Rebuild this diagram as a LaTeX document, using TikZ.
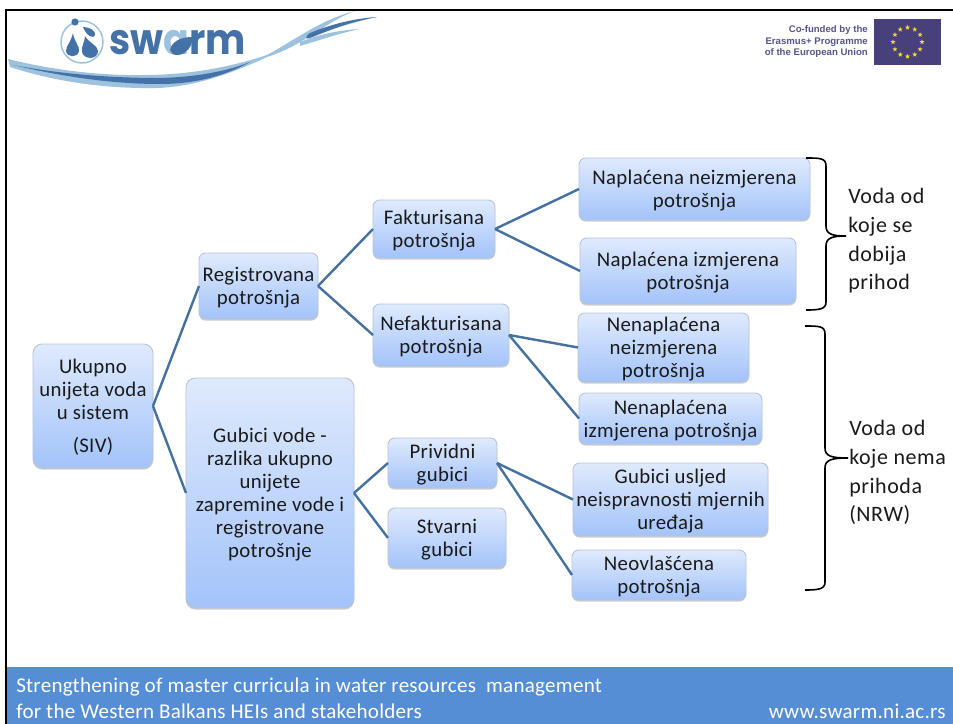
\documentclass[tikz,border=0pt]{standalone}
\usepackage{fontspec}
\setmainfont{Carlito}
\newfontfamily\boxfont[LetterSpace=1.5]{Carlito}
\newfontfamily\footfont[LetterSpace=1.2]{Carlito}
\newfontfamily\sidefont[LetterSpace=2.5]{Carlito}
\newfontfamily\logofont{Poppins}
\newfontfamily\eufont{Liberation Sans}
\usetikzlibrary{shadows,shapes.geometric}
\definecolor{boxtop}{HTML}{DFEAFD}
\definecolor{boxbot}{HTML}{A3C3FA}
\definecolor{boxedge}{HTML}{B9C5D6}
\definecolor{linkc}{HTML}{44719F}
\definecolor{band}{HTML}{558ED5}
\definecolor{inkc}{HTML}{1A1A1A}
\definecolor{logod}{HTML}{4472A8}
\definecolor{logol}{HTML}{9DC2DE}
\definecolor{logom}{HTML}{6F9FC8}
\definecolor{euc}{HTML}{47407A}
\definecolor{eut}{HTML}{55558A}
\definecolor{eustar}{HTML}{F3D72F}
\tikzset{
  x=0.75pt,y=-0.75pt,
  pxbox/.style n args={4}{minimum width={(#3-#1)*0.75pt},minimum height={(#4-#2)*0.75pt},at={({(#1+#3)/2},{(#2+#4)/2})}},
  bx/.style={rectangle,rounded corners=5pt,draw=boxedge,line width=0.7pt,top color=boxtop,bottom color=boxbot,
    inner sep=0pt,outer sep=0pt,align=center,text=inkc,font=\boxfont\fontsize{15.6}{17.25}\selectfont,text depth=-1.1pt,
    drop shadow={shadow xshift=0pt,shadow yshift=-1.2pt,opacity=.4,fill=gray}},
  bigbx/.style={bx,rounded corners=7pt},
  link/.style={draw=linkc,line width=1.8pt},
  bracec/.style={draw=black,line width=1.2pt},
  sidetxt/.style={anchor=north west,inner sep=0pt,align=left,text=inkc,font=\sidefont\fontsize{16.5}{21.6}\selectfont},
  foot/.style={inner sep=0pt,text=white,font=\footfont\fontsize{15.8}{18}\selectfont},
  eutxt/.style={anchor=base east,inner sep=0pt,text=eut,font=\eufont\bfseries\fontsize{7.2}{8}\selectfont},
}
\begin{document}
\begin{tikzpicture}
\useasboundingbox (0,0) rectangle (953,724);
\fill[white] (0,0) rectangle (953,724);
% frame
\draw[black,line width=1.5pt] (6,724) -- (6,10) -- (953,10);
% footer
\node[fill=band,anchor=north west,minimum width={946*0.75pt},minimum height={57*0.75pt},inner sep=0pt,outer sep=0pt] (footer) at (7,667) {};
\node[foot,anchor=base west] (ft1) at (16,692) {Strengthening of master curricula in water resources~ management};
\node[foot,anchor=base west] (ft2) at (16,718) {for the Western Balkans HEIs and stakeholders};
\node[foot,anchor=base east] (ft3) at (946,718) {www.swarm.ni.ac.rs};
% logo swoosh
\fill[logol] (8,59) .. controls (60,72) and (110,76) .. (150,75) .. controls (200,74) and (240,64) .. (267,55) .. controls (295,40) and (320,20) .. (355,11)
  .. controls (325,22) and (305,45) .. (267,57) .. controls (235,72) and (195,87) .. (157,88) .. controls (100,89) and (50,80) .. (10,67) -- cycle;
\fill[logol] (300,36) .. controls (325,28) and (345,20) .. (377,17) .. controls (345,24) and (325,32) .. (300,40) -- cycle;
\fill[logol] (300,42) .. controls (320,34) and (340,30) .. (360,29) .. controls (340,33) and (320,40) .. (300,46) -- cycle;
\fill[logod] (13,65) .. controls (60,74) and (110,78) .. (160,78) .. controls (195,77) and (225,72) .. (250,62)
  .. controls (225,76) and (195,84) .. (160,84) .. controls (110,84) and (60,76) .. (13,65) -- cycle;
\fill[logod] (310,33) .. controls (330,25) and (350,19) .. (377,17) .. controls (350,22) and (335,28) .. (310,38) .. controls (305,40) and (305,36) .. (310,33) -- cycle;
% logo mark
\draw[logol,line width=1.1pt] (82,42) circle[radius=21];
\fill[logod] (75,22) circle[radius=3.6];
\fill[logod] (83,27) .. controls (90,27) and (96,31) .. (95,35) .. controls (94,39) and (87,37) .. (83,27) -- cycle;
\fill[logod] (73,33) .. controls (74,42) and (80,46) .. (79,51) .. controls (78,58) and (67,58) .. (66,51) .. controls (66,46) and (71,42) .. (73,33) -- cycle;
\fill[logod] (85,36) .. controls (88,42) and (98,46) .. (98,51) .. controls (98,60) and (84,60) .. (82,52) .. controls (81,46) and (85,42) .. (85,36) -- cycle;
\node[anchor=base west,inner sep=0pt,text=logod,font=\logofont\bfseries\fontsize{32}{33}\selectfont] (logotxt) at (109,55) {\scalebox{.89}[1]{sw\textcolor{logol}{a}rm}};
\fill[logod] (170,50) .. controls (172,41) and (181,37) .. (193,37) .. controls (192,47) and (186,55) .. (177,55) .. controls (173,55) and (171,53) .. (170,50) -- cycle;
% EU
\node[anchor=north west,fill=euc,minimum width={67*0.75pt},minimum height={46*0.75pt},inner sep=0pt,outer sep=0pt] (flag) at (874,19) {};
\foreach \i in {1,...,12}{
  \node[star,star points=5,star point ratio=2.4,fill=eustar,inner sep=0pt,minimum size=4pt] (st\i) at ({907.5+14.5*cos(30*\i)},{42+14.5*sin(30*\i)}) {};
}
\node[eutxt] (eu1) at (868,33) {Co-funded by the};
\node[eutxt] (eu2) at (868,45) {Erasmus+ Programme};
\node[eutxt] (eu3) at (868,56) {of the European Union};
% boxes
\node[bigbx,pxbox={33}{344}{153}{468}] (siv) {Ukupno\\unijeta voda\\u sistem\\[7.5pt](SIV)};
\node[bx,pxbox={199}{253}{318}{319}] (reg) {Registrovana\\potrošnja};
\node[bigbx,pxbox={186}{378}{354}{608}] (gub) {Gubici vode -\\razlika ukupno\\unijete\\zapremine vode i\\registrovane\\potrošnje};
\node[bx,pxbox={373}{200}{495}{258}] (fak) {Fakturisana\\potrošnja};
\node[bx,pxbox={373}{304}{509}{366}] (nef) {Nefakturisana\\potrošnja};
\node[bx,pxbox={388}{438}{497}{488}] (pri) {Prividni\\gubici};
\node[bx,pxbox={388}{508}{506}{568}] (stv) {Stvarni\\gubici};
\node[bx,pxbox={579}{158}{810}{220}] (nn) {Naplaćena neizmjerena\\potrošnja};
\node[bx,pxbox={580}{238}{796}{304}] (ni) {Naplaćena izmjerena\\potrošnja};
\node[bx,pxbox={578}{313}{749}{382}] (an) {Nenaplaćena\\neizmjerena\\potrošnja};
\node[bx,pxbox={579}{393}{762}{444}] (ai) {Nenaplaćena\\izmjerena potrošnja};
\node[bx,pxbox={573}{463}{768}{536}] (gu) {Gubici usljed\\neispravnosti mjernih\\uređaja};
\node[bx,pxbox={572}{550}{746}{600}] (ne) {Neovlašćena\\potrošnja};
% connectors
\draw[link] (siv.east) -- (reg.west);
\draw[link] (siv.east) -- (gub.west);
\draw[link] (reg.east) -- (fak.west);
\draw[link] (reg.east) -- (nef.west);
\draw[link] (fak.east) -- (nn.west);
\draw[link] (fak.east) -- (ni.west);
\draw[link] (nef.east) -- (an.west);
\draw[link] (nef.east) -- (ai.west);
\draw[link] (gub.east) -- (pri.west);
\draw[link] (gub.east) -- (stv.west);
\draw[link] (pri.east) -- (gu.west);
\draw[link] (pri.east) -- (ne.west);
% braces
\draw[bracec] (806,158) .. controls (820,158) and (826,158) .. (826,166) -- (826,226) .. controls (826,234) and (832,236) .. (846,236)
  .. controls (832,236) and (826,238) .. (826,246) -- (826,302) .. controls (826,309) and (820,310) .. (806,310);
\draw[bracec] (805,326) .. controls (819,326) and (825,326) .. (825,334) -- (825,448) .. controls (825,456) and (831,458) .. (848,458)
  .. controls (831,458) and (825,460) .. (825,468) -- (825,582) .. controls (825,589) and (819,590) .. (805,590);
% side text
\node[sidetxt] (t1) at (848,188) {Voda od\\koje se\\dobija\\prihod};
\node[sidetxt] (t2) at (849,420) {Voda od\\koje nema\\prihoda\\(NRW)};
\end{tikzpicture}
\end{document}
